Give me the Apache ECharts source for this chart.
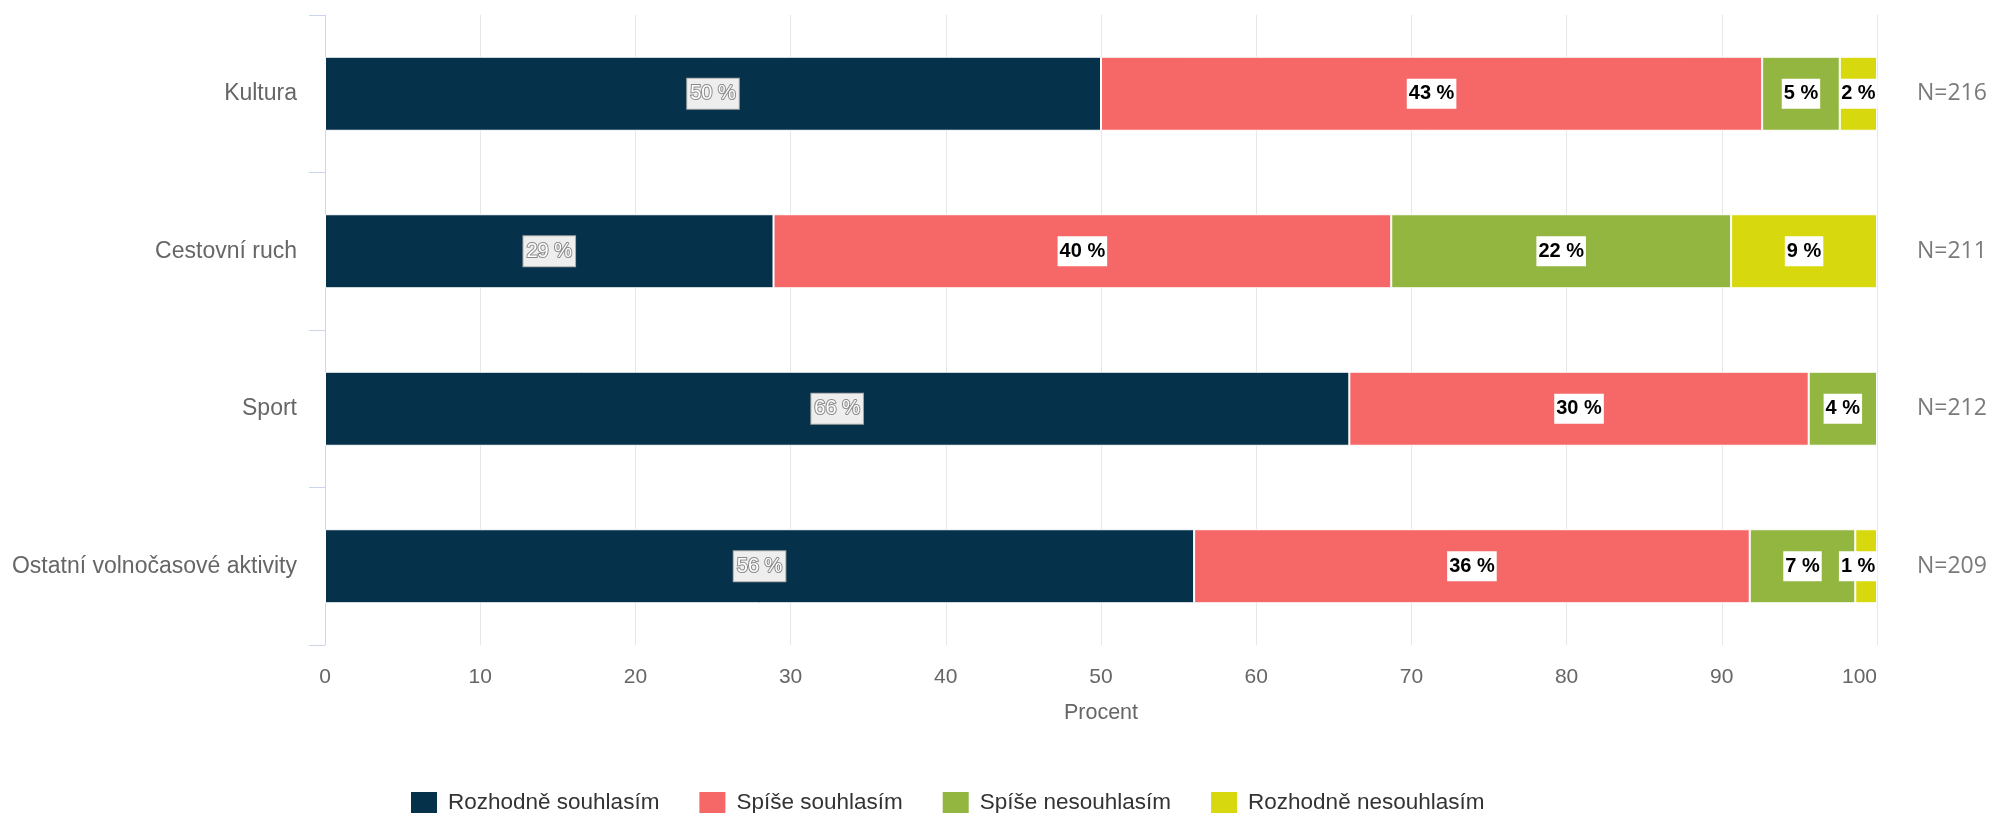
<!DOCTYPE html>
<html>
<head>
<meta charset="utf-8">
<script src="https://cdn.jsdelivr.net/npm/echarts@6/dist/echarts.min.js"></script>
<style>
html,body{margin:0;padding:0;background:#fff;}
#chart{width:1991px;height:813px;}
</style>
</head>
<body>
<div id="chart"></div>
<script>
// ---- data ----
var categories = ['Kultura', 'Cestovní ruch', 'Sport', 'Ostatní volnočasové aktivity'];
var nLabels = ['N=216', 'N=211', 'N=212', 'N=209'];
var seriesNames = ['Rozhodně souhlasím', 'Spíše souhlasím', 'Spíše nesouhlasím', 'Rozhodně nesouhlasím'];
var rozhodneSouhlasim = [50, 28.9, 66, 56];
var spiseSouhlasim = [42.6, 39.8, 29.6, 35.8];
var spiseNesouhlasim = [5.0, 21.9, 4.4, 6.8];
var rozhodneNesouhlasim = [2.4, 9.4, null, 1.4];
var xTicks = [0, 10, 20, 30, 40, 50, 60, 70, 80, 90, 100];

var colors = ['#05314a', '#f56867', '#93b640', '#d8d80e'];
var values = [rozhodneSouhlasim, spiseSouhlasim, spiseNesouhlasim, rozhodneNesouhlasim];

var FONT = 'Liberation Sans, Arial, sans-serif';

function fmt(p) { return p.value == null ? '' : Math.round(p.value) + ' %'; }

var darkLabel = {
  show: true, position: 'inside', formatter: fmt,
  fontFamily: FONT, fontSize: 20, fontWeight: 'normal',
  color: '#ffffff', textBorderColor: '#8a8a8a', textBorderWidth: 2,
  backgroundColor: '#eeeeee', borderColor: '#a8a8a8', borderWidth: 1,
  padding: [5, 3]
};
var lightLabel = {
  show: true, position: 'inside', formatter: fmt,
  fontFamily: FONT, fontSize: 20, fontWeight: 'bold',
  color: '#000000', backgroundColor: '#ffffff',
  padding: [5, 2]
};

var series = seriesNames.map(function (name, i) {
  return {
    name: name,
    type: 'bar',
    stack: 'total',
    barWidth: '47%',
    itemStyle: { color: colors[i], borderColor: '#ffffff', borderWidth: 1 },
    label: i === 0 ? darkLabel : lightLabel,
    data: values[i].map(function (v, j) {
      // keep a narrow last segment label inside the plot area
      if (i === seriesNames.length - 1 && v != null && v < 2) {
        return { value: v, label: { offset: [-8, 0] } };
      }
      return v;
    })
  };
});

var chart = echarts.init(document.getElementById('chart'), null, { renderer: 'canvas' });
chart.setOption({
  animation: false,
  color: colors,
  grid: { left: 325, right: 114, top: 15, bottom: 168, containLabel: false },
  legend: {
    data: seriesNames,
    left: 409, top: 790, padding: 0,
    itemWidth: 28, itemHeight: 24, itemGap: 38,
    icon: 'rect',
    textStyle: { fontFamily: FONT, fontSize: 22.5, color: '#333333', padding: [0, 0, 0, 5] }
  },
  xAxis: {
    type: 'value', min: 0, max: 100, interval: 10,
    name: 'Procent', nameLocation: 'middle', nameGap: 57,
    nameTextStyle: { fontFamily: FONT, fontSize: 21.5, color: '#666666' },
    axisLine: { show: false }, axisTick: { show: false },
    axisLabel: { fontFamily: FONT, fontSize: 21, color: '#666666', margin: 22,
      alignMaxLabel: 'right',
      formatter: function (v) { return xTicks.indexOf(v) >= 0 ? String(v) : ''; } },
    splitLine: { show: true, lineStyle: { color: '#e6e6e6', width: 1 } }
  },
  yAxis: [{
    type: 'category', data: categories, inverse: true,
    axisLine: { show: true, lineStyle: { color: '#ccd6eb', width: 1 } },
    axisTick: { show: true, length: 16, lineStyle: { color: '#ccd6eb' } },
    axisLabel: { fontFamily: FONT, fontSize: 23, color: '#666666', margin: 28 },
    splitLine: { show: false }
  }, {
    type: 'category', data: nLabels, inverse: true, position: 'right',
    axisLine: { show: false }, axisTick: { show: false },
    axisLabel: { fontFamily: 'Open Sans, sans-serif', fontSize: 23, color: '#7a7a7a', margin: 40 },
    splitLine: { show: false }
  }],
  series: series
});
</script>
</body>
</html>
